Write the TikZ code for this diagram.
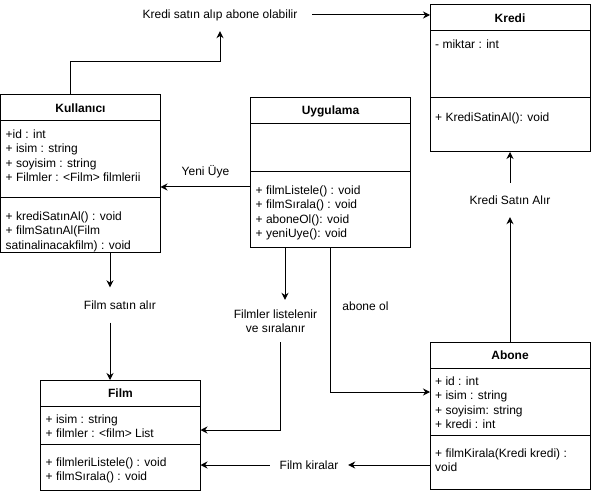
\documentclass[tikz,border=0pt]{standalone}
\usepackage{fontspec}
\setmainfont{Liberation Sans}
\usetikzlibrary{positioning,arrows.meta}

\begin{document}
\begin{tikzpicture}[x=1pt, y=-1pt, >={Stealth[length=7pt,width=7pt]},
    every node/.style={font=\fontsize{12}{14.4}\selectfont},
    hd/.style={draw, line width=1pt, outer sep=0pt, inner sep=0pt, minimum width=160,
        minimum height=26, font=\fontsize{12}{14.4}\selectfont\bfseries},
    cmp/.style={draw, line width=1pt, outer sep=0pt, inner sep=0pt, minimum width=160},
    txt/.style={anchor=north west, align=left, inner sep=0pt, execute at begin node=\strut},
    lbl/.style={inner sep=0pt, align=center},
    arr/.style={line width=1pt, ->}]
    \useasboundingbox[fill=white] (0,0) rectangle (591,494);

    \path 
    (70,62) coordinate (k1)
    (110,0) coordinate (k2)
    (285,0) coordinate (u1)
    (280,430) coordinate (u2)
    (330,392) coordinate (u3)
    (0,187) coordinate (u4)
    ;

    % Kullanıcı
    \node[hd] (kulH) at (80.5,108) {Kullanıcı};
    \node[cmp, minimum height=77, below=0pt of kulH] (kulA) {};
    \node[cmp, minimum height=54, below=0pt of kulA] (kulM) {};
    \node[txt] (kulAt) at ([xshift=5pt,yshift=-8.5pt]kulA.north west) {+id : int\\+ isim : string\\+ soyisim : string\\+ Filmler : <Film> filmlerii};
    \node[txt] (kulMt) at ([xshift=5pt,yshift=-13.4pt]kulM.north west) {+ krediSatınAl() : void\\+ filmSatınAl(Film\\satinalinacakfilm) : void};

    % Uygulama
    \node[hd] (uygH) at (330.5,111) {Uygulama};
    \node[cmp, minimum height=48, below=0pt of uygH] (uygA) {};
    \node[cmp, minimum height=75, below=0pt of uygA] (uygM) {};
    \node[txt] (uygMt) at ([xshift=5pt,yshift=-13.4pt]uygM.north west) {+ filmListele() : void\\+ filmSırala() : void\\+ aboneOl(): void\\+ yeniUye(): void};

    % Kredi
    \node[hd] (kreH) at (510,18) {Kredi};
    \node[cmp, minimum height=67, below=0pt of kreH] (kreA) {};
    \node[cmp, minimum height=54, below=0pt of kreA] (kreM) {};
    \node[txt] (kreAt) at ([xshift=5pt,yshift=-7.5pt]kreA.north west) {- miktar : int};
    \node[txt] (kreMt) at ([xshift=5pt,yshift=-13pt]kreM.north west) {+ KrediSatinAl(): void};

    % Abone
    \node[hd] (aboH) at (510,355) {Abone};
    \node[cmp, minimum height=67, below=0pt of aboH] (aboA) {};
    \node[cmp, minimum height=54, below=0pt of aboA] (aboM) {};
    \node[txt] (aboAt) at ([xshift=5pt,yshift=-8.5pt]aboA.north west) {+ id : int\\+ isim : string\\+ soyisim: string\\+ kredi : int};
    \node[txt] (aboMt) at ([xshift=5pt,yshift=-13.4pt]aboM.north west) {+ filmKirala(Kredi kredi) :\\void};

    % Film
    \node[hd] (filmH) at (120.5,393) {Film};
    \node[cmp, minimum height=38, below=0pt of filmH] (filmA) {};
    \node[cmp, minimum height=46, below=0pt of filmA] (filmM) {};
    \node[txt] (filmAt) at ([xshift=5pt,yshift=-8.5pt]filmA.north west) {+ isim : string\\+ filmler : <film> List};
    \node[txt] (filmMt) at ([xshift=5pt,yshift=-13.4pt]filmM.north west) {+ filmleriListele() : void\\+ filmSırala() : void};

    % etiketler
    \node[lbl, minimum width=184, minimum height=32] (lbKr) at (220,15) {Kredi satın alıp abone olabilir};
    \node[lbl] (lbYeni) at (205.5,172) {Yeni Üye};
    \node[lbl, minimum height=35] (lbFs) at (120,305) {Film satın alır};
    \node[lbl, minimum height=42] (lbFl) at (275.5,321) {Filmler listelenir\\ve sıralanır};
    \node[lbl] (lbAb) at (365.5,306) {abone ol};
    \node[lbl, minimum height=34] (lbKs) at (510,200) {Kredi Satın Alır};
    \node[lbl, minimum width=78] (lbFk) at (309,465) {Film kiralar};

    \draw[arr] (kulH.north -| k1) -- (k1) -| (lbKr.south);
    \draw[arr] (lbKr.east) -- (lbKr.east -| kreH.west);
    \draw[arr] (uygM.west |- u4) -- (kulA.east |- u4);
    \draw[arr] (kulM.south -| k2) -- (lbFs.north -| k2);
    \draw[arr] (lbFs.south -| k2) -- (filmH.north -| k2);
    \draw[arr] (uygM.south -| u1) -- (lbFl.north -| u1);
    \draw[arr] (lbFl.south -| u2) -- (u2) -- (filmA.east |- u2);
    \draw[arr] (uygM.south -| u3) -- (u3) -- (aboA.west |- u3);
    \draw[arr] (aboH.north) -- (lbKs.south);
    \draw[arr] (lbKs.north) -- (kreM.south);
    \draw[arr] (aboM.west |- lbFk.east) -- (lbFk.east);
    \draw[arr] (lbFk.west) -- (filmM.east |- lbFk.west);
\end{tikzpicture}
\end{document}
